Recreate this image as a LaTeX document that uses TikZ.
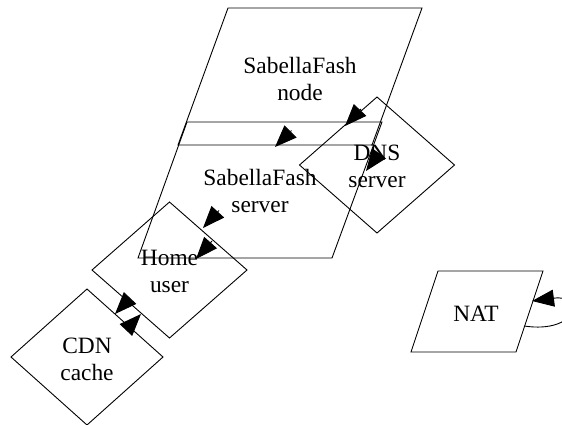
\documentclass[tikz,border=0pt]{standalone}
\usepackage{fontspec}
\setmainfont{Liberation Serif}
\usetikzlibrary{arrows.meta}
\begin{document}
\begin{tikzpicture}[x=1pt,y=-1pt,
  shapeline/.style={draw=black, line width=0.9pt, line join=miter},
  lbl/.style={align=center, font=\fontsize{23.4}{27}\selectfont, inner sep=0pt},
  arr/.style={draw=black, line width=0.9pt, -{Triangle[length=22pt,width=17pt]}},
]
\useasboundingbox (0,0) rectangle (562,424);
\clip (0,0) rectangle (562,424);

% SabellaFash node (parallelogram)
\draw[shapeline] (228,8) -- (422,8) -- (372,145) -- (178,145) -- cycle;
\node[lbl] (sfnode) at (300,78.5) {SabellaFash\\node};

% SabellaFash server (parallelogram)
\draw[shapeline] (187,122) -- (382,122) -- (332,258) -- (138,258) -- cycle;
\node[lbl] (sfserver) at (260,191) {SabellaFash\\server};

% DNS server (diamond)
\draw[shapeline] (377,97) -- (454.5,165) -- (377,233) -- (299.5,165) -- cycle;
\node[lbl] (dns) at (377,166) {DNS\\server};

% Home user (diamond)
\draw[shapeline] (169.5,202) -- (247,270) -- (169.5,338) -- (92,270) -- cycle;
\node[lbl] (home) at (169.5,271) {Home\\user};

% CDN cache (diamond)
\draw[shapeline] (87,289) -- (163,357) -- (87,425) -- (11,357) -- cycle;
\node[lbl] (cdn) at (87,359) {CDN\\cache};

% NAT (parallelogram)
\draw[shapeline] (438,271) -- (543,271) -- (516,352) -- (411,352) -- cycle;
\node[lbl] (nat) at (476,314) {NAT};

% edge ends
\coordinate (s1) at (361,109);   \coordinate (t1) at (345,126);
\coordinate (s2) at (291.5,130.5); \coordinate (t2) at (275,147);
\coordinate (s3) at (380,152);   \coordinate (t3) at (366,171);
\coordinate (s4) at (219,210.5); \coordinate (t4) at (203,228);
\coordinate (s5) at (212,241);   \coordinate (t5) at (196,259);
\coordinate (s6) at (130.1,298); \coordinate (t6) at (115,314);
\coordinate (s7) at (125.9,330); \coordinate (t7) at (141,314);
\coordinate (l0) at (524,326);   \coordinate (l1) at (532,301);

% connectors
\draw[arr] (s1) -- (t1);
\draw[arr] (s2) -- (t2);
\draw[arr] (s3) -- (t3);
\draw[arr] (s4) -- (t4);
\draw[arr] (s5) -- (t5);
\draw[arr] (s6) -- (t6);
\draw[arr] (s7) -- (t7);
% NAT self loop
\draw[arr] (l0) .. controls (578,334) and (586,294) .. (l1);
\end{tikzpicture}
\end{document}
